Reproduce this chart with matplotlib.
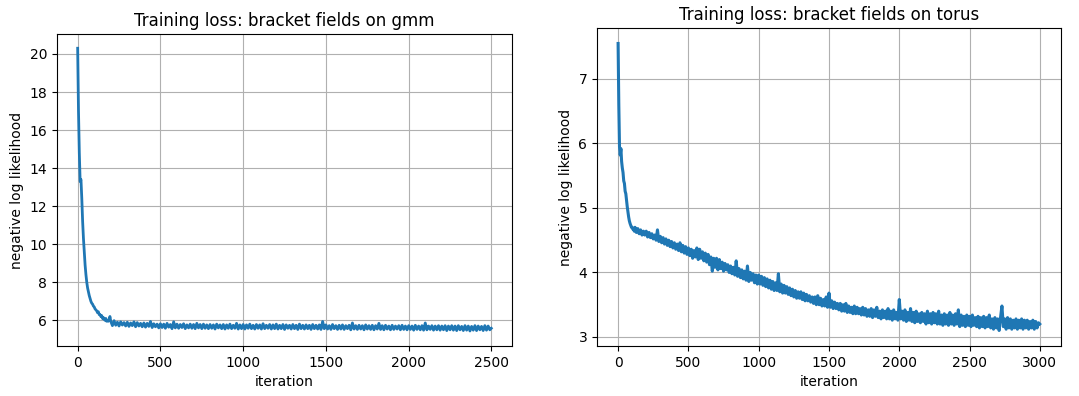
import numpy as np
import matplotlib
matplotlib.use("Agg")
import matplotlib.pyplot as plt

# ---- GMM training loss ----
gmm_iter = list(range(0, 200, 5)) + list(range(200, 2500, 10)) + [2499]
gmm_loss = [
    20.3, 17.0, 14.8, 13.3, 13.4, 12.4, 11.2, 10.3, 9.6, 8.9,
    8.4, 8.0, 7.7, 7.5, 7.3, 7.15, 7.0, 6.9, 6.85, 6.75,
    6.7, 6.6, 6.55, 6.5, 6.4, 6.45, 6.3, 6.3, 6.2, 6.25,
    6.1, 6.15, 6.05, 6.0, 6.1, 5.95, 6.0, 5.95, 6.05, 6.2,
    5.95, 5.72, 5.98, 5.74, 5.90, 5.70, 5.92, 5.75, 5.88, 5.70,
    5.90, 5.68, 5.86, 5.72, 5.92, 5.66, 5.88, 5.70, 5.84, 5.66,
    5.86, 5.64, 5.84, 5.68, 5.94, 5.62, 5.82, 5.66, 5.80, 5.60,
    5.82, 5.62, 5.80, 5.58, 5.84, 5.64, 5.78, 5.56, 5.92, 5.60,
    5.80, 5.58, 5.78, 5.62, 5.82, 5.56, 5.76, 5.60, 5.80, 5.58,
    5.78, 5.56, 5.84, 5.60, 5.78, 5.56, 5.80, 5.58, 5.76, 5.56,
    5.78, 5.58, 5.76, 5.54, 5.80, 5.60, 5.76, 5.56, 5.78, 5.54,
    5.76, 5.58, 5.80, 5.56, 5.74, 5.58, 5.84, 5.54, 5.76, 5.56,
    5.78, 5.54, 5.76, 5.58, 5.80, 5.56, 5.74, 5.54, 5.78, 5.58,
    5.76, 5.54, 5.82, 5.56, 5.74, 5.58, 5.78, 5.54, 5.76, 5.56,
    5.80, 5.54, 5.74, 5.56, 5.78, 5.52, 5.76, 5.58, 5.74, 5.54,
    5.78, 5.56, 5.74, 5.52, 5.80, 5.56, 5.74, 5.54, 5.76, 5.56,
    5.74, 5.52, 5.78, 5.56, 5.74, 5.54, 5.76, 5.52, 5.94, 5.56,
    5.76, 5.54, 5.72, 5.52, 5.78, 5.56, 5.72, 5.52, 5.74, 5.54,
    5.76, 5.52, 5.72, 5.56, 5.74, 5.50, 5.86, 5.54, 5.72, 5.52,
    5.74, 5.54, 5.72, 5.50, 5.76, 5.54, 5.72, 5.52, 5.74, 5.50,
    5.72, 5.54, 5.84, 5.52, 5.72, 5.50, 5.74, 5.54, 5.70, 5.50,
    5.74, 5.52, 5.70, 5.54, 5.72, 5.50, 5.74, 5.52, 5.70, 5.50,
    5.72, 5.52, 5.70, 5.48, 5.74, 5.52, 5.70, 5.50, 5.72, 5.48,
    5.86, 5.50, 5.70, 5.52, 5.72, 5.48, 5.70, 5.50, 5.72, 5.48,
    5.70, 5.50, 5.72, 5.46, 5.70, 5.50, 5.72, 5.48, 5.70, 5.46,
    5.72, 5.50, 5.68, 5.46, 5.72, 5.48, 5.70, 5.44, 5.68, 5.48,
    5.72, 5.46, 5.70, 5.50, 5.68, 5.46, 5.72, 5.48, 5.70, 5.50,
    5.58,
]

# ---- Torus training loss ----
torus_iter = list(range(0, 120, 5)) + list(range(120, 3000, 10)) + [2999]
torus_loss = [
    7.55, 6.6, 5.95, 5.82, 5.92, 5.72, 5.62, 5.55, 5.42, 5.38,
    5.26, 5.22, 5.12, 5.02, 4.94, 4.86, 4.80, 4.76, 4.73, 4.70,
    4.70, 4.67, 4.68, 4.64,
    4.70, 4.62, 4.68, 4.60, 4.66, 4.58, 4.64, 4.58,
    4.64, 4.55, 4.62, 4.54, 4.60, 4.52, 4.58, 4.50, 4.66, 4.48,
    4.56, 4.46, 4.54, 4.44, 4.52, 4.42, 4.50, 4.40, 4.48, 4.38,
    4.46, 4.36, 4.44, 4.34, 4.46, 4.32, 4.42, 4.30, 4.40, 4.28,
    4.38, 4.26, 4.36, 4.22, 4.34, 4.24, 4.38, 4.20, 4.36, 4.22,
    4.32, 4.18, 4.30, 4.16, 4.28, 4.12, 4.24, 4.02, 4.22, 4.08,
    4.22, 4.04, 4.20, 4.06, 4.16, 4.02, 4.14, 4.04, 4.12, 4.00,
    4.10, 3.98, 4.08, 3.96, 4.18, 3.94, 4.06, 3.92, 4.04, 3.90,
    4.02, 3.88, 4.10, 3.86, 4.00, 3.88, 3.98, 3.84, 3.96, 3.82,
    3.96, 3.82, 3.94, 3.80, 3.92, 3.78, 3.90, 3.76, 3.88, 3.74,
    3.86, 3.72, 3.84, 3.72, 3.98, 3.70, 3.82, 3.68, 3.80, 3.68,
    3.78, 3.66, 3.76, 3.64, 3.74, 3.62, 3.72, 3.60, 3.70, 3.60,
    3.70, 3.58, 3.68, 3.56, 3.66, 3.56, 3.64, 3.54, 3.62, 3.52,
    3.62, 3.50, 3.64, 3.50, 3.60, 3.48, 3.58, 3.48, 3.62, 3.46,
    3.68, 3.46, 3.56, 3.44, 3.54, 3.44, 3.52, 3.42, 3.52, 3.40,
    3.50, 3.40, 3.52, 3.38, 3.48, 3.38, 3.46, 3.36, 3.48, 3.36,
    3.46, 3.36, 3.44, 3.34, 3.46, 3.34, 3.44, 3.32, 3.42, 3.32,
    3.44, 3.30, 3.42, 3.32, 3.46, 3.30, 3.40, 3.28, 3.42, 3.30,
    3.40, 3.28, 3.44, 3.28, 3.40, 3.26, 3.42, 3.28, 3.38, 3.26,
    3.58, 3.28, 3.40, 3.26, 3.42, 3.24, 3.38, 3.26, 3.44, 3.24,
    3.38, 3.22, 3.40, 3.24, 3.36, 3.22, 3.38, 3.24, 3.36, 3.20,
    3.40, 3.22, 3.36, 3.20, 3.38, 3.22, 3.36, 3.20, 3.40, 3.20,
    3.34, 3.18, 3.36, 3.20, 3.34, 3.18, 3.38, 3.20, 3.34, 3.18,
    3.36, 3.20, 3.42, 3.16, 3.34, 3.18, 3.32, 3.16, 3.34, 3.18,
    3.32, 3.16, 3.34, 3.18, 3.30, 3.16, 3.32, 3.14, 3.30, 3.16,
    3.32, 3.14, 3.30, 3.16, 3.34, 3.14, 3.28, 3.12, 3.30, 3.14,
    3.28, 3.10, 3.30, 3.48, 3.16, 3.28, 3.12, 3.30, 3.14, 3.28,
    3.12, 3.26, 3.14, 3.28, 3.12, 3.26, 3.14, 3.28, 3.12, 3.26,
    3.14, 3.26, 3.12, 3.24, 3.14, 3.26, 3.12, 3.24, 3.14, 3.22,
    3.20,
]

titles = ["Training loss: bracket fields on gmm", "Training loss: bracket fields on torus"]
xlabel = "iteration"
ylabel = "negative log likelihood"

fig = plt.figure(figsize=(10.79, 3.96), dpi=100)
ax1 = fig.add_axes([0.0528, 0.1263, 0.4217, 0.7879])
ax2 = fig.add_axes([0.5533, 0.1263, 0.4300, 0.8030])

color = "#1f77b4"
ax1.plot(gmm_iter, gmm_loss, color=color, lw=2.0)
ax2.plot(torus_iter, torus_loss, color=color, lw=2.2)

ax1.set_xlim(-125, 2624)
ax1.set_ylim(4.65, 21.05)
ax1.set_yticks([6, 8, 10, 12, 14, 16, 18, 20])
ax1.set_xticks([0, 500, 1000, 1500, 2000, 2500])

ax2.set_xlim(-150, 3150)
ax2.set_ylim(2.86, 7.79)
ax2.set_yticks([3, 4, 5, 6, 7])
ax2.set_xticks([0, 500, 1000, 1500, 2000, 2500, 3000])

for ax, t in zip([ax1, ax2], titles):
    ax.set_title(t)
    ax.set_xlabel(xlabel)
    ax.set_ylabel(ylabel)
    ax.grid(True)

fig.savefig("out.png", dpi=100)
